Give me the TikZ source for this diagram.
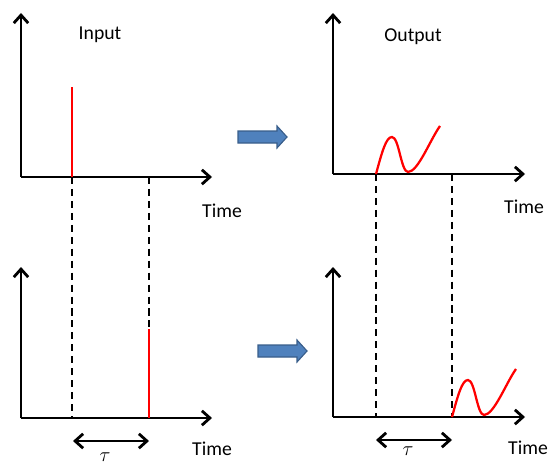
\documentclass[tikz,border=0pt]{standalone}
\usepackage{fontspec}
\setmainfont{Carlito}
\usepackage{xcolor}
\usetikzlibrary{arrows.meta}
\definecolor{blockfill}{RGB}{79,129,189}
\definecolor{blockline}{RGB}{56,93,138}

\begin{document}
\begin{tikzpicture}[
    x=0.025cm, y=-0.025cm,
    axis/.style={-{Straight Barb[length=2mm,width=3.6mm]}, line width=2pt},
    lag/.style={{Straight Barb[length=2mm,width=3.6mm]}-{Straight Barb[length=2mm,width=3.6mm]},
                line width=2pt},
    pulse/.style={red, line width=1.6pt},
    guide/.style={dash pattern=on 5pt off 3.5pt, line width=1.3pt},
    block/.style={fill=blockfill, draw=blockline, line width=0.8pt},
    lbl/.style={font=\fontsize{14}{16}\selectfont, inner sep=0pt}
]
\useasboundingbox (0,0) rectangle (556,466);

% Axes corners and tips
\coordinate (oIn)   at (21,177);  \coordinate (yIn)   at (21,13);   \coordinate (xIn)   at (212,177);
\coordinate (oOut)  at (333,174); \coordinate (yOut)  at (333,13);  \coordinate (xOut)  at (525,174);
\coordinate (oInD)  at (21,418);  \coordinate (yInD)  at (21,267);  \coordinate (xInD)  at (212,418);
\coordinate (oOutD) at (333,417); \coordinate (yOutD) at (333,267); \coordinate (xOutD) at (525,417);

% Time marks
\coordinate (tIn)    at (72,177);  \coordinate (tInD)   at (72,418);
\coordinate (sIn)    at (149,177); \coordinate (sInD)   at (149,418);
\coordinate (tOut)   at (376,174); \coordinate (tOutD)  at (376,417);
\coordinate (sOut)   at (452,174); \coordinate (sOutD)  at (452,417);
\coordinate (pulseTop)  at (72,87);
\coordinate (pulseTopD) at (149,329);

% Axes
\draw[axis] (oIn) -- (yIn);     \draw[axis] (oIn) -- (xIn);
\draw[axis] (oOut) -- (yOut);   \draw[axis] (oOut) -- (xOut);
\draw[axis] (oInD) -- (yInD);   \draw[axis] (oInD) -- (xInD);
\draw[axis] (oOutD) -- (yOutD); \draw[axis] (oOutD) -- (xOutD);

% Dashed guides
\draw[guide] (tIn) -- (tInD);
\draw[guide] (sIn) -- (pulseTopD);
\draw[guide] (tOut) -- (tOutD);
\draw[guide] (sOut) -- (sOutD);

% Impulses
\draw[pulse] (tIn) -- (pulseTop);
\draw[pulse] (sInD) -- (pulseTopD);

% Responses
\draw[pulse] (tOut) .. controls (382,152) and (386,137) .. (392,137)
             .. controls (399,137) and (401,172) .. (408,172)
             .. controls (418,172) and (430,140) .. (440,126);
\draw[pulse, shift={(76,243)}] (376,174) .. controls (382,152) and (386,137) .. (392,137)
             .. controls (399,137) and (401,172) .. (408,172)
             .. controls (418,172) and (430,140) .. (440,126);

% Block arrows
\draw[block, shift={(238,137)}] (0,-6) -- (39,-6) -- (39,-11) -- (49,0)
      -- (39,11) -- (39,6) -- (0,6) -- cycle;
\draw[block, shift={(258,351)}] (0,-6) -- (39,-6) -- (39,-11) -- (49,0)
      -- (39,11) -- (39,6) -- (0,6) -- cycle;

% Delay
\coordinate (lagL)  at (73,441);  \coordinate (lagR)  at (149,441);
\coordinate (lagLD) at (376,440); \coordinate (lagRD) at (452,440);
\draw[lag] (lagL) -- (lagR);
\draw[lag] (lagLD) -- (lagRD);

% Labels
\node[lbl] (inTitle)  at (100,35)  {Input};
\node[lbl] (outTitle) at (413,37)  {Output};
\node[lbl] (timeA)    at (222,211) {Time};
\node[lbl] (timeB)    at (524,207) {Time};
\node[lbl] (timeC)    at (212,449) {Time};
\node[lbl] (timeD)    at (528,448) {Time};
\node[lbl] (tauA)     at (105,457) {$\tau$};
\node[lbl] (tauB)     at (408,451) {$\tau$};

\end{tikzpicture}
\end{document}
